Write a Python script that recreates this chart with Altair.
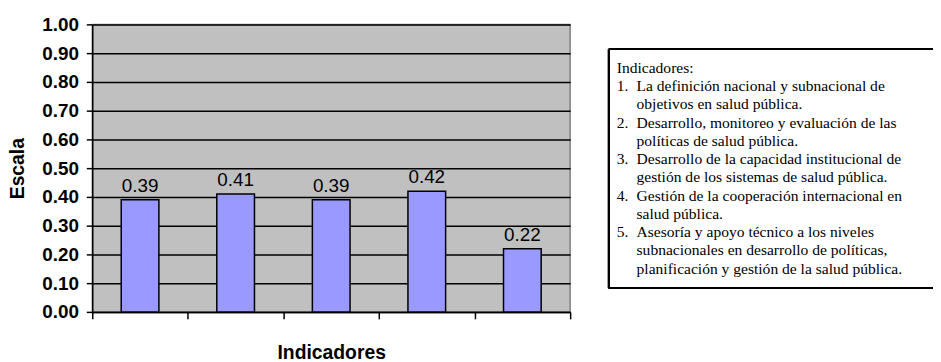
import altair as alt
import pandas as pd

# ---- data ----
CATEGORIES = [1, 2, 3, 4, 5]
VALUES = [0.39, 0.41, 0.39, 0.42, 0.22]
Y_TICKS = [0.0, 0.1, 0.2, 0.3, 0.4, 0.5, 0.6, 0.7, 0.8, 0.9, 1.0]
X_TICKS = [0.5, 1.5, 2.5, 3.5, 4.5, 5.5]
Y_TITLE = "Escala"
X_TITLE = "Indicadores"
LEGEND_TITLE = "Indicadores:"
LEGEND_NUMBERS = ["1.", "2.", "3.", "4.", "5."]
LEGEND_ITEMS = [
    ["La definición nacional y subnacional de", "objetivos en salud pública."],
    ["Desarrollo, monitoreo y evaluación de las", "políticas de salud pública."],
    ["Desarrollo de la capacidad institucional de",
     "gestión de los sistemas de salud pública."],
    ["Gestión de la cooperación internacional en", "salud pública."],
    ["Asesoría y apoyo técnico a los niveles",
     "subnacionales en desarrollo de políticas,",
     "planificación y gestión de la salud pública."],
]

# legend table: one row per printed piece (column 0 = numbers/title, 1 = item text)
rows, cols, texts = [0], [0], [LEGEND_TITLE]
r = 1
for num, lines in zip(LEGEND_NUMBERS, LEGEND_ITEMS):
    rows.append(r); cols.append(0); texts.append(num)
    for ln in lines:
        rows.append(r); cols.append(1); texts.append(ln)
        r += 1
legend_df = pd.DataFrame({"row": rows, "col": cols, "text": texts})
n_rows = r - 1

df = pd.DataFrame({"idx": CATEGORIES, "value": VALUES})

x_scale = alt.Scale(domain=[0.5, 5.5], nice=False, zero=False, padding=0)
y_scale = alt.Scale(domain=[0, 1], nice=False)

x_axis = alt.Axis(
    values=X_TICKS, labels=False, grid=False, tickSize=7,
    tickColor="black", domainColor="black", domainWidth=1.5, tickWidth=1.5,
    title=X_TITLE, titleFont="Liberation Sans", titleFontSize=19.5,
    titleFontWeight="bold", titleColor="black",
    titleX=241, titleY=47, titleBaseline="alphabetic", titleAlign="center",
)
y_axis = alt.Axis(
    values=Y_TICKS, tickCount=11, format=".2f", grid=True, gridColor="black",
    gridWidth=1.5, tickSize=6, tickColor="black", tickWidth=1.5,
    domainColor="black", domainWidth=1.5, labelPadding=8, labelOverlap=False,
    labelFont="Liberation Sans", labelFontSize=19, labelFontWeight="bold",
    labelColor="black",
    title=Y_TITLE, titleFont="Liberation Sans", titleFontSize=19.5,
    titleFontWeight="bold", titleColor="black", titleAngle=270,
    titleX=-75, titleY=145, titleAlign="center", titleBaseline="middle",
)

x_enc = alt.X("idx:Q", scale=x_scale, axis=x_axis)
y_enc = alt.Y("value:Q", scale=y_scale, axis=y_axis)

bars = alt.Chart(df).mark_bar(
    size=38, color="#9999FF", stroke="black", strokeWidth=1.5
).encode(x=x_enc, y=y_enc)

labels = alt.Chart(df).mark_text(
    baseline="alphabetic", dy=-8, font="Liberation Sans", fontSize=19, color="black"
).encode(x=x_enc, y=y_enc, text=alt.Text("value:Q", format=".2f"))

plot = alt.layer(bars, labels)

# legend frame: top, left and bottom edges (the right edge runs past the picture)
frame_top = alt.Chart(df).mark_rule(color="black", strokeWidth=1.8).encode(
    x=alt.value(521), x2=alt.value(900), y=alt.value(25)
)
frame_bottom = alt.Chart(df).mark_rule(color="black", strokeWidth=1.8).encode(
    x=alt.value(521), x2=alt.value(900), y=alt.value(266)
)
frame_left = alt.Chart(df).mark_rule(color="black", strokeWidth=1.8).encode(
    x=alt.value(521), y=alt.value(25), y2=alt.value(266)
)
legend_text = alt.Chart(legend_df).mark_text(
    align="left", baseline="alphabetic", font="Liberation Serif",
    fontWeight="normal", fontSize=15.7, color="black"
).encode(
    x=alt.X("col:Q", scale=alt.Scale(domain=[0, 1], range=[529, 549]), axis=None),
    y=alt.Y("row:Q", scale=alt.Scale(domain=[0, n_rows], range=[49, 49 + n_rows * 18.4]),
            axis=None),
    text="text:N",
)
legend = alt.layer(frame_top, frame_bottom, frame_left, legend_text).resolve_scale(
    x="independent", y="independent"
)

chart = (
    alt.layer(plot, legend)
    .resolve_scale(x="independent", y="independent")
    .properties(
        width=482, height=290,
        autosize=alt.AutoSizeParams(type="none"),
        padding={"left": 85, "top": 15, "right": 366, "bottom": 49},
        background="white",
    )
    .configure_view(fill="#C0C0C0", stroke="#808080", strokeWidth=1.5)
)

chart.save("out.html", embed_options={"renderer": "svg", "actions": False})
